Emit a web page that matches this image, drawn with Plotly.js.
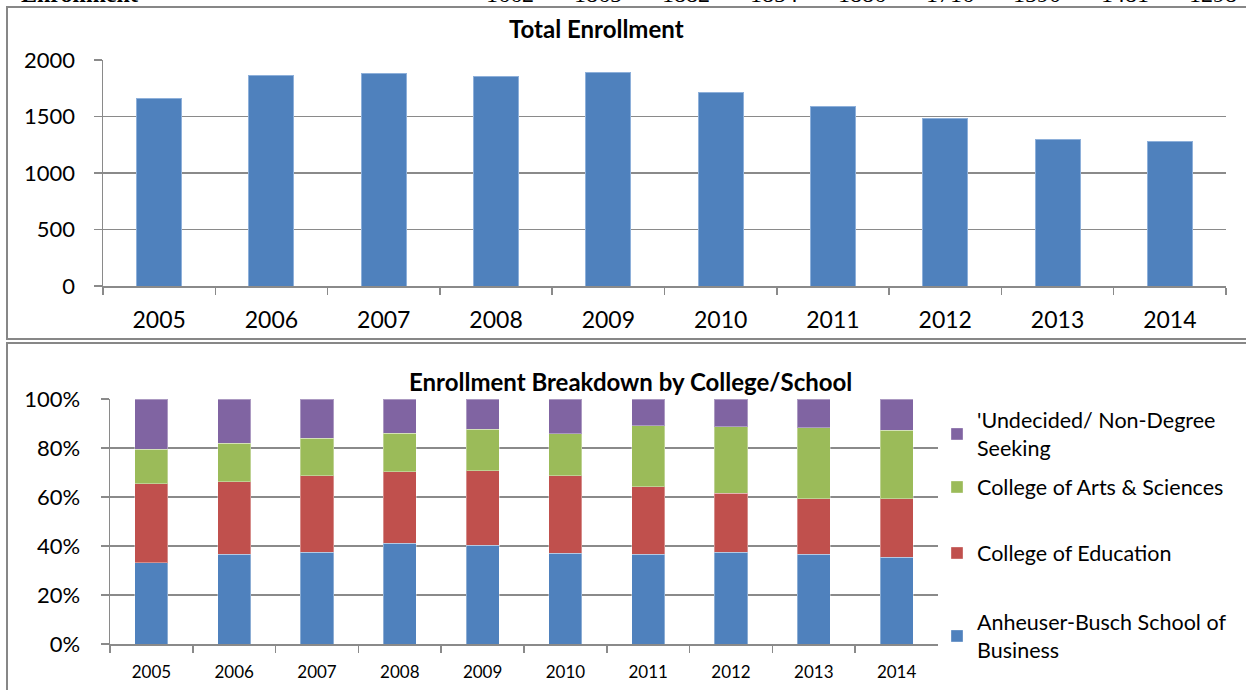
<!DOCTYPE html>
<html>
<head>
<meta charset="utf-8">
<script src="https://cdn.plot.ly/plotly-3.0.1.min.js"></script>
<style>
  html, body { margin: 0; padding: 0; background: #fff; overflow: hidden; }
  #chart { width: 1246px; height: 690px; }
</style>
</head>
<body>
<div id="chart"></div>
<script>
// ---- data ----
const years = ['2005','2006','2007','2008','2009','2010','2011','2012','2013','2014'];
const totalEnrollment = [1662, 1865, 1882, 1854, 1886, 1716, 1590, 1481, 1298, 1281];
const businessPct   = [33.2, 36.6, 37.4, 41.1, 40.4, 37.0, 36.7, 37.4, 36.6, 35.5];
const educationPct  = [32.2, 29.6, 31.3, 29.2, 30.3, 31.7, 27.5, 24.2, 22.6, 23.7];
const artsPct       = [14.1, 15.7, 15.3, 15.8, 16.9, 17.1, 24.9, 27.0, 29.0, 28.0];
const undecidedPct  = [20.5, 18.1, 16.0, 13.9, 12.4, 14.2, 10.9, 11.4, 11.8, 12.8];
const seriesNames = [
  'Anheuser-Busch School of<br>Business',
  'College of Education',
  'College of Arts & Sciences',
  "'Undecided/ Non-Degree<br>Seeking"
];
const yTicksTop = [0, 500, 1000, 1500, 2000];
const yTicksBottom = [0, 20, 40, 60, 80, 100];
const yTickTextBottom = ['0%', '20%', '40%', '60%', '80%', '100%'];
const tableRowLabel = 'Enrollment';
const tableRowValues = totalEnrollment.slice(0, 9);

// ---- styling ----
const W = 1246, H = 690;
const px = x => x / W;
const py = y => 1 - y / H;
const FONT = 'Lato, "Noto Sans", sans-serif';
const GRID = '#8a8a8a';
const colors = ['#4F81BD', '#C0504D', '#9BBB59', '#8064A2'];

const traces = [
  {
    type: 'bar', x: years, y: totalEnrollment, xaxis: 'x', yaxis: 'y',
    marker: { color: '#4F81BD', line: { color: '#8EB0DA', width: 1 } },
    showlegend: false, hoverinfo: 'x+y'
  }
];
const pctSeries = [businessPct, educationPct, artsPct, undecidedPct];
const legendIds = ['legend4', 'legend3', 'legend2', 'legend'];
pctSeries.forEach((vals, i) => {
  traces.push({
    type: 'bar', x: years, y: vals, xaxis: 'x2', yaxis: 'y2',
    name: seriesNames[i],
    marker: { color: colors[i], line: { color: 'rgba(255,255,255,0.35)', width: 1 } },
    legend: legendIds[i], showlegend: true
  });
});

function legendAt(yCenter) {
  return {
    x: px(937), y: py(yCenter), xanchor: 'left', yanchor: 'middle',
    bgcolor: 'rgba(0,0,0,0)', borderwidth: 0,
    font: { family: FONT, size: 21.5, color: '#000' },
    itemclick: false, itemdoubleclick: false
  };
}

const annotations = [
  { text: '<b>Total Enrollment</b>', xref: 'paper', yref: 'paper', x: px(596), y: py(28),
    xanchor: 'center', yanchor: 'middle', showarrow: false,
    font: { family: FONT, size: 24, color: '#000' } },
  { text: '<b>Enrollment Breakdown by College/School</b>', xref: 'paper', yref: 'paper', x: px(631), y: py(381),
    xanchor: 'center', yanchor: 'middle', showarrow: false,
    font: { family: FONT, size: 24, color: '#000' } },
  { text: '<b>' + tableRowLabel + '</b>', xref: 'paper', yref: 'paper', x: px(140), y: py(9.5),
    xanchor: 'right', yanchor: 'bottom', showarrow: false,
    font: { family: '"Liberation Serif", serif', size: 24, color: '#000' } }
];
tableRowValues.forEach((v, i) => {
  annotations.push({
    text: String(v), xref: 'paper', yref: 'paper', x: px(510 + i * 87.9), y: py(9.5),
    xanchor: 'center', yanchor: 'bottom', showarrow: false,
    font: { family: '"Liberation Serif", serif', size: 24, color: '#000' }
  });
});

const shapes = [
  { type: 'rect', xref: 'paper', yref: 'paper', x0: px(7), x1: 1.05, y0: py(339), y1: py(7),
    line: { color: '#878787', width: 2 }, fillcolor: 'rgba(0,0,0,0)' },
  { type: 'rect', xref: 'paper', yref: 'paper', x0: px(7), x1: 1.05, y0: -0.05, y1: py(343),
    line: { color: '#878787', width: 2 }, fillcolor: 'rgba(0,0,0,0)' }
];

const layout = {
  width: W, height: H,
  margin: { l: 0, r: 0, t: 0, b: 0, pad: 0 },
  paper_bgcolor: '#fff', plot_bgcolor: '#fff',
  font: { family: FONT, color: '#000' },
  barmode: 'stack', bargap: 0.6,
  showlegend: true,
  xaxis: {
    domain: [px(103), px(1226)], anchor: 'y', type: 'category',
    tickson: 'boundaries', ticks: 'outside', ticklen: 7, tickwidth: 1.5, tickcolor: GRID,
    showline: true, linecolor: GRID, linewidth: 1.5, showgrid: false,
    tickfont: { family: FONT, size: 23, color: '#000' }, ticklabelstandoff: 13,
    fixedrange: true
  },
  yaxis: {
    domain: [py(286), py(60)], anchor: 'x', range: [0, 2000],
    tickvals: yTicksTop, ticks: 'outside', ticklen: 8, tickwidth: 1.5, tickcolor: GRID,
    showline: true, linecolor: GRID, linewidth: 1.5,
    showgrid: true, gridcolor: GRID, gridwidth: 1.5, zeroline: false,
    tickfont: { family: FONT, size: 22, color: '#000' }, ticklabelstandoff: 14,
    fixedrange: true
  },
  xaxis2: {
    domain: [px(110), px(938)], anchor: 'y2', type: 'category',
    tickson: 'boundaries', ticks: 'outside', ticklen: 7, tickwidth: 1.5, tickcolor: GRID,
    showline: true, linecolor: GRID, linewidth: 1.5, showgrid: false,
    tickfont: { family: FONT, size: 17, color: '#000' }, ticklabelstandoff: 12,
    fixedrange: true
  },
  yaxis2: {
    domain: [py(644), py(399)], anchor: 'x2', range: [0, 100],
    tickvals: yTicksBottom, ticktext: yTickTextBottom,
    ticks: 'outside', ticklen: 8, tickwidth: 1.5, tickcolor: GRID,
    showline: true, linecolor: GRID, linewidth: 1.5,
    showgrid: true, gridcolor: GRID, gridwidth: 1.5, zeroline: false,
    tickfont: { family: FONT, size: 22, color: '#000' }, ticklabelstandoff: 16,
    fixedrange: true
  },
  legend: legendAt(434),
  legend2: legendAt(487),
  legend3: legendAt(553),
  legend4: legendAt(636),
  annotations: annotations,
  shapes: shapes
};

Plotly.newPlot('chart', traces, layout, { displayModeBar: false, staticPlot: true });
</script>
</body>
</html>
